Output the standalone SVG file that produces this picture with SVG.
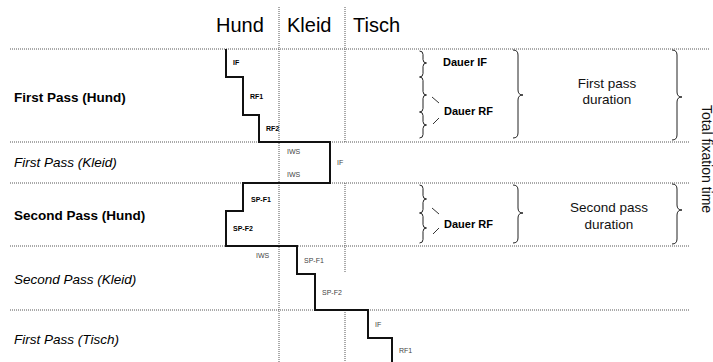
<svg xmlns="http://www.w3.org/2000/svg" width="713" height="362" viewBox="0 0 713 362">
  <style>
    .grid { stroke: #555; stroke-width: 1; stroke-dasharray: 1 1; fill: none; }
    .stair { stroke: #111; stroke-width: 2; fill: none; stroke-linejoin: miter; }
    .brace { stroke: #222; stroke-width: 1; fill: none; }
    .tick { stroke: #333; stroke-width: 1; fill: none; }
    text { font-family: "Liberation Sans", Arial, sans-serif; fill: #000; }
    .head { font-size: 20px; }
    .row { font-size: 13.5px; }
    .rowb { font-size: 13.5px; font-weight: bold; }
    .rowi { font-size: 13.5px; font-style: italic; }
    .lab { font-size: 7px; font-weight: bold; }
    .labg { font-size: 7px; fill: #444; }
    .dur { font-size: 11px; font-weight: bold; }
    .big { font-size: 13.5px; fill: #111; }
  </style>

  <!-- column headers -->
  <g id="headers">
    <text class="head" x="216" y="32">Hund</text>
    <text class="head" x="287" y="32">Kleid</text>
    <text class="head" x="353" y="32">Tisch</text>
  </g>

  <!-- dotted grid -->
  <g id="grid">
    <line class="grid" x1="279" y1="7" x2="279" y2="362"/>
    <line class="grid" x1="345" y1="7" x2="345" y2="142"/>
    <line class="grid" x1="345" y1="183" x2="345" y2="273"/>
    <line class="grid" x1="345" y1="310" x2="345" y2="362"/>
    <line class="grid" x1="10" y1="49" x2="710" y2="49"/>
    <line class="grid" x1="10" y1="142" x2="690" y2="142"/>
    <line class="grid" x1="10" y1="183" x2="690" y2="183"/>
    <line class="grid" x1="10" y1="246" x2="690" y2="246"/>
    <line class="grid" x1="10" y1="310" x2="690" y2="310"/>
  </g>

  <!-- row labels -->
  <g id="rows">
    <text class="rowb" x="14" y="102">First Pass (Hund)</text>
    <text class="rowi" x="14" y="167">First Pass (Kleid)</text>
    <text class="rowb" x="14" y="220">Second Pass (Hund)</text>
    <text class="rowi" x="14" y="284">Second Pass (Kleid)</text>
    <text class="rowi" x="14" y="344">First Pass (Tisch)</text>
  </g>

  <!-- scan path staircase -->
  <g id="connectors">
    <path class="stair" d="M226,49 V77 H243 V115 H259 V142 H330 V183 H243 V211 H226 V246 H297 V274 H315 V310 H368 V338 H392 V362"/>
  </g>

  <!-- fixation labels -->
  <g id="fixations">
    <text class="lab" x="233" y="65">IF</text>
    <text class="lab" x="250" y="99">RF1</text>
    <text class="lab" x="266" y="131">RF2</text>
    <text class="labg" x="287" y="154">IWS</text>
    <text class="labg" x="287" y="177">IWS</text>
    <text class="labg" x="337" y="165">IF</text>
    <text class="lab" x="251" y="202">SP-F1</text>
    <text class="lab" x="233" y="231">SP-F2</text>
    <text class="labg" x="256" y="258">IWS</text>
    <text class="labg" x="304" y="263">SP-F1</text>
    <text class="labg" x="322" y="295">SP-F2</text>
    <text class="labg" x="375" y="327">IF</text>
    <text class="labg" x="399" y="353">RF1</text>
  </g>

  <!-- per-fixation duration braces -->
  <g id="dauer-first">
    <path class="brace" d="M419.5,51 Q423,51 423,54.5 L423,59.5 Q423,63 426.5,63 Q423,63 423,66.5 L423,73.5 Q423,77 419.5,77"/>
    <path class="brace" d="M419.5,77 Q423,77 423,80.5 L423,91.5 Q423,95 426.5,95 Q423,95 423,98.5 L423,108.5 Q423,112 419.5,112"/>
    <path class="brace" d="M419.5,112 Q423,112 423,115.5 L423,121.5 Q423,125 426.5,125 Q423,125 423,128.5 L423,134.5 Q423,138 419.5,138"/>
    <line class="tick" x1="432" y1="97" x2="439" y2="103"/>
    <line class="tick" x1="433" y1="124" x2="439" y2="118"/>
    <text class="dur" x="443" y="66">Dauer IF</text>
    <text class="dur" x="444" y="115">Dauer RF</text>
  </g>

  <g id="dauer-second">
    <path class="brace" d="M419.5,185 Q423,185 423,188.5 L423,195.5 Q423,199 426.5,199 Q423,199 423,202.5 L423,209.5 Q423,213 419.5,213"/>
    <path class="brace" d="M419.5,213 Q423,213 423,216.5 L423,224.5 Q423,228 426.5,228 Q423,228 423,231.5 L423,239.5 Q423,243 419.5,243"/>
    <line class="tick" x1="432" y1="208" x2="439" y2="214"/>
    <line class="tick" x1="433" y1="234" x2="439" y2="228"/>
    <text class="dur" x="444" y="228">Dauer RF</text>
  </g>

  <!-- pass duration braces -->
  <g id="first-pass-duration">
    <path class="brace" d="M513,50 Q518,50 518,55 L518,90 Q518,95 523,95 Q518,95 518,100 L518,133 Q518,138 513,138"/>
    <text class="big" x="607" y="88" text-anchor="middle">First pass</text>
    <text class="big" x="607" y="104" text-anchor="middle">duration</text>
  </g>

  <g id="second-pass-duration">
    <path class="brace" d="M513,185 Q518,185 518,190 L518,208 Q518,213 523,213 Q518,213 518,218 L518,238 Q518,243 513,243"/>
    <text class="big" x="609" y="212" text-anchor="middle">Second pass</text>
    <text class="big" x="609" y="229" text-anchor="middle">duration</text>
  </g>

  <!-- total fixation time -->
  <g id="total-fixation-time">
    <path class="brace" d="M672,50 Q677,50 677,55 L677,92 Q677,97 682,97 Q677,97 677,102 L677,135 Q677,140 672,140"/>
    <path class="brace" d="M672,184 Q677,184 677,189 L677,205 Q677,210 682,210 Q677,210 677,215 L677,239 Q677,244 672,244"/>
    <text class="big" transform="translate(702,159) rotate(90)" text-anchor="middle" style="font-size:14px">Total fixation time</text>
  </g>
</svg>
